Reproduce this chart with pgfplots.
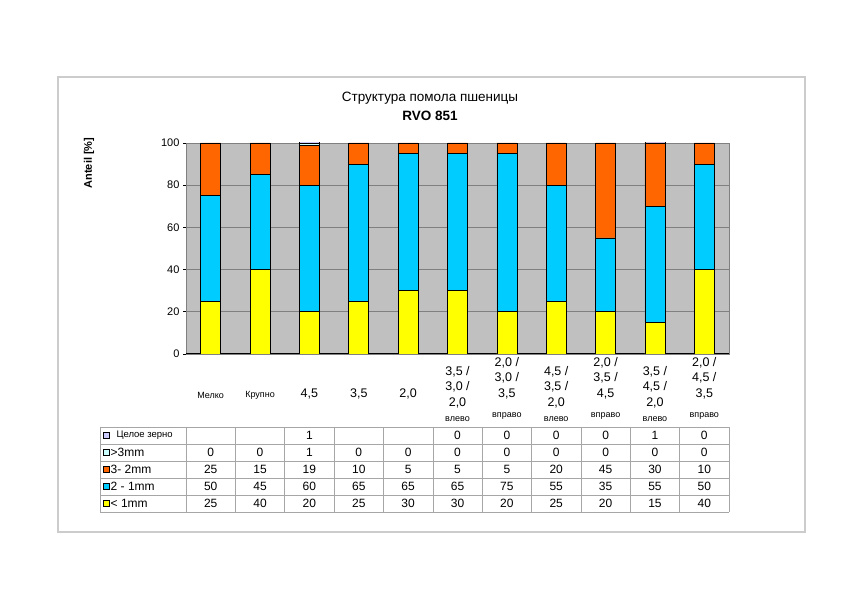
\documentclass[border=0pt]{standalone}
\usepackage{pgfplots}
\pgfplotsset{compat=1.18}
\usepackage{fontspec}
\setmainfont{Liberation Sans}
\definecolor{cyel}{HTML}{FFFF00}
\definecolor{ccyan}{HTML}{00CCFF}
\definecolor{corange}{HTML}{FF6600}
\definecolor{cwhite}{HTML}{CCFFFF}
\definecolor{clav}{HTML}{CCCCFF}
\definecolor{plotbg}{HTML}{C0C0C0}
\definecolor{gridc}{HTML}{808080}
\definecolor{tabc}{HTML}{A6A6A6}
\begin{document}
\begin{tikzpicture}[x=1pt,y=-1pt,font=\fontsize{12}{14}\selectfont]
\useasboundingbox (0,0) rectangle (863,609);
\fill[white] (0,0) rectangle (863,609);
\draw[black!20, line width=1.2pt] (58,77) rectangle (805,532);
\node[font=\fontsize{13.5}{16}\selectfont, anchor=base] at (430,101.7) {Структура помола пшеницы};
\node[font=\fontsize{13.5}{16}\selectfont\bfseries, anchor=base] at (430,120.7) {RVO 851};
\node[rotate=90, font=\fontsize{11}{13}\selectfont\bfseries] at (89,163) {Anteil [\%]};

\begin{axis}[
  at={(186pt,-354pt)}, anchor=south west,
  scale only axis, width=543pt, height=211pt,
  ybar stacked, bar width=20pt,
  xmin=-0.5, xmax=10.5, ymin=0, ymax=100,
  ytick={0,20,...,100},
  ymajorgrids, major grid style={draw=gridc, line width=0.6pt},
  axis background/.style={fill=plotbg},
  axis line style={draw=gridc, line width=0.6pt},
  tick align=outside, major tick length=3pt,
  ytick pos=left, xtick pos=bottom,
  ytick style={draw=black, line width=0.6pt},
  xtick style={draw=none},
  yticklabel style={font=\fontsize{11}{13}\selectfont},
  /pgf/number format/assume math mode=true,
  xtick={0,1,2,3,4,6,8,10},
  xticklabels={{\fontsize{9}{11}\selectfont Мелко},{\fontsize{9}{11}\selectfont Крупно},{4,5},{3,5},{2,0},{2,0 /\\3,0 /\\3,5},{2,0 /\\3,5 /\\4,5},{2,0 /\\4,5 /\\3,5}},
  xticklabel style={font=\fontsize{12.5}{15.5}\selectfont, align=center, anchor=south, yshift=-45.5pt},
  extra x ticks={5,7,9},
  extra x tick labels={{3,5 /\\3,0 /\\2,0},{4,5 /\\3,5 /\\2,0},{3,5 /\\4,5 /\\2,0}},
  extra x tick style={xticklabel style={yshift=-9pt}, xtick style={draw=none}},
  extra y ticks={0}, extra y tick labels={},
  extra y tick style={ymajorgrids=true, major grid style={draw=black, line width=1pt}},
]
\addplot[fill=cyel, draw=black, line width=0.6pt] coordinates {(0,25)(1,40)(2,20)(3,25)(4,30)(5,30)(6,20)(7,25)(8,20)(9,15)(10,40)};
\addplot[fill=ccyan, draw=black, line width=0.6pt] coordinates {(0,50)(1,45)(2,60)(3,65)(4,65)(5,65)(6,75)(7,55)(8,35)(9,55)(10,50)};
\addplot[fill=corange, draw=black, line width=0.6pt] coordinates {(0,25)(1,15)(2,19)(3,10)(4,5)(5,5)(6,5)(7,20)(8,45)(9,30)(10,10)};
\addplot[fill=cwhite, draw=black, line width=0.6pt] coordinates {(0,0)(1,0)(2,1)(3,0)(4,0)(5,0)(6,0)(7,0)(8,0)(9,0)(10,0)};
\addplot[fill=clav, draw=black, line width=0.6pt] coordinates {(0,0)(1,0)(2,1)(3,0)(4,0)(5,0)(6,0)(7,0)(8,0)(9,1)(10,0)};
\end{axis}

% direction words under the category labels
\foreach \w/\yy [count=\i from 5] in {влево/419,вправо/416,влево/419,вправо/416,влево/419,вправо/416}{
  \pgfmathsetmacro\xc{186+49.364*(\i+0.5)}
  \node[font=\fontsize{9}{11}\selectfont] at (\xc,\yy) {\w};
}

% data table
\foreach \yy in {427,444,461,478,495,512} {\draw[tabc, line width=0.6pt] (100,\yy) -- (729,\yy);}
\draw[tabc, line width=0.6pt] (100,427) -- (100,512);
\foreach \k in {0,...,11} {\pgfmathsetmacro\xk{186+49.364*\k}\draw[tabc, line width=0.6pt] (\xk,427) -- (\xk,512);}

\foreach \v [count=\i from 0] in {{},{},1,{},{},0,0,0,0,1,0}{\pgfmathsetmacro\xc{186+49.364*(\i+0.5)}\node at (\xc,435.5) {\v};}
\foreach \v [count=\i from 0] in {0,0,1,0,0,0,0,0,0,0,0}{\pgfmathsetmacro\xc{186+49.364*(\i+0.5)}\node at (\xc,452.5) {\v};}
\foreach \v [count=\i from 0] in {25,15,19,10,5,5,5,20,45,30,10}{\pgfmathsetmacro\xc{186+49.364*(\i+0.5)}\node at (\xc,469.5) {\v};}
\foreach \v [count=\i from 0] in {50,45,60,65,65,65,75,55,35,55,50}{\pgfmathsetmacro\xc{186+49.364*(\i+0.5)}\node at (\xc,486.5) {\v};}
\foreach \v [count=\i from 0] in {25,40,20,25,30,30,20,25,20,15,40}{\pgfmathsetmacro\xc{186+49.364*(\i+0.5)}\node at (\xc,503.5) {\v};}

% legend keys in the table
\foreach \c/\yy in {clav/435.5,cwhite/452.5,corange/469.5,ccyan/486.5,cyel/503.5}{
  \filldraw[fill=\c, draw=black, line width=0.7pt] (103.5,\yy-3) rectangle (109.5,\yy+3);
}
\node[anchor=west, font=\fontsize{9.5}{11}\selectfont] at (113,435.5) {Целое зерно};
\node[anchor=west, inner sep=0pt] at (110.5,452.5) {>3mm};
\node[anchor=west, inner sep=0pt] at (110.5,469.5) {3- 2mm};
\node[anchor=west, inner sep=0pt] at (110.5,486.5) {2 - 1mm};
\node[anchor=west, inner sep=0pt] at (110.5,503.5) {< 1mm};
\end{tikzpicture}
\end{document}
